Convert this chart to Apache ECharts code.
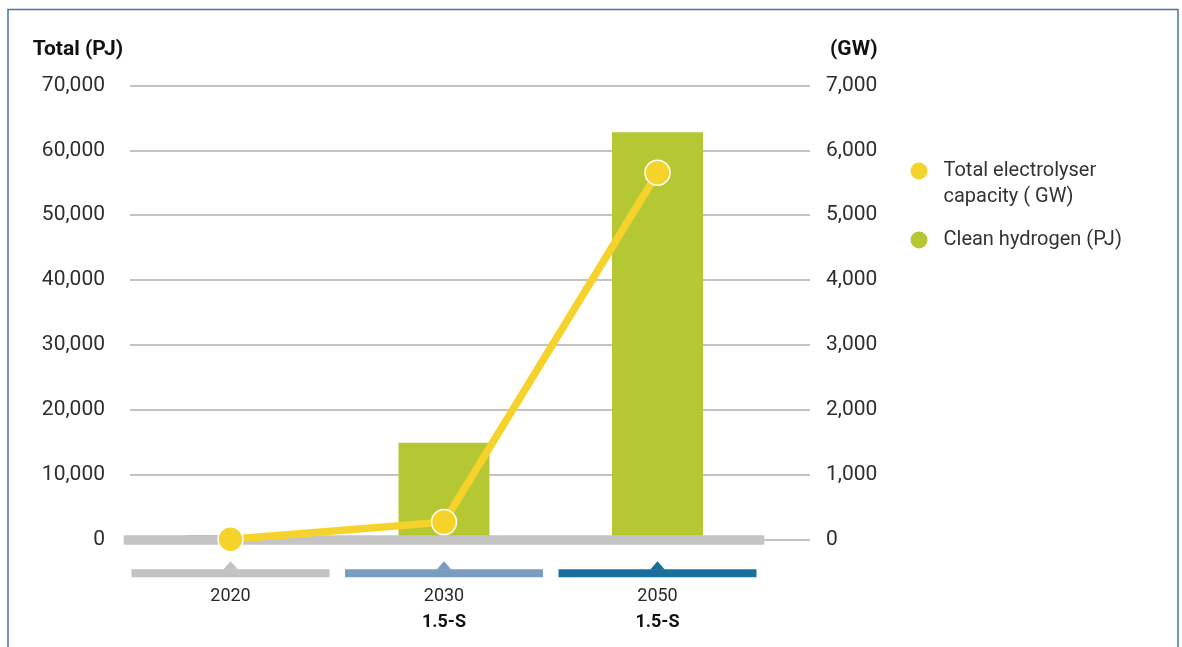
<!DOCTYPE html>
<html>
<head>
<meta charset="utf-8">
<script src="https://cdn.jsdelivr.net/npm/echarts@6/dist/echarts.min.js"></script>
<style>
  html, body { margin: 0; padding: 0; background: #ffffff; }
  #chart { width: 1182px; height: 647px; }
</style>
</head>
<body>
<div id="chart"></div>
<script>
// ---- Data ----
const categories = ['2020', '2030', '2050'];
const scenarios = ['', '1.5-S', '1.5-S'];
const hydrogenPJ = [650, 14900, 62800];
const capacityGW = [0, 265, 5655];
const pjTicks = { min: 0, max: 70000, interval: 10000 };
const gwTicks = { min: 0, max: 7000, interval: 1000 };
const lineName = 'Total electrolyser capacity ( GW)';
const barName = 'Clean hydrogen (PJ)';
const lineLegendLines = ['Total electrolyser', 'capacity ( GW)'];
const bandColors = ['#c2c2c2', '#7b9cc1', '#1b6f9c'];

// ---- Styles ----
const FONT = 'Roboto';
const TEXT = '#333333';
const GREEN = '#b5c733';
const YELLOW = '#f5d32a';
const GRID_TOP = 85.5;
const GRID_BOTTOM = 647 - 539.3;

const chart = echarts.init(document.getElementById('chart'), null, { renderer: 'canvas' });

const option = {
  backgroundColor: '#ffffff',
  animation: false,
  textStyle: { fontFamily: FONT },
  graphic: [{
    type: 'rect',
    shape: { x: 8, y: 9.5, width: 1170, height: 700 },
    style: { fill: 'none', stroke: '#4a74a5', lineWidth: 1.5 },
    z: -1, silent: true
  }],
  grid: [
    { left: 130, right: 1182 - 810, top: GRID_TOP, bottom: GRID_BOTTOM },
    { left: 123.75, right: 1182 - 764.25, top: GRID_TOP, bottom: GRID_BOTTOM }
  ],
  legend: [
    {
      data: [lineName],
      left: 910.5, top: 132,
      orient: 'vertical',
      padding: 0,
      icon: 'circle',
      itemWidth: 17, itemHeight: 17,
      itemStyle: { borderWidth: 0 },
      formatter: () => '\n' + lineLegendLines.join('\n'),
      textStyle: { fontFamily: FONT, fontSize: 20, color: TEXT, lineHeight: 26, padding: [0, 0, 0, 11] }
    },
    {
      data: [barName],
      left: 910.5, top: 227,
      orient: 'vertical',
      padding: 0,
      icon: 'circle',
      itemWidth: 17, itemHeight: 17,
      itemStyle: { borderWidth: 0 },
      textStyle: { fontFamily: FONT, fontSize: 20, color: TEXT, lineHeight: 26, padding: [0, 0, 0, 11] }
    }
  ],
  xAxis: [
    { gridIndex: 0, type: 'value', show: false, min: 0, max: 1 },
    {
      gridIndex: 1,
      type: 'category',
      data: categories,
      offset: 3,
      z: 3,
      axisLine: { show: true, lineStyle: { color: '#c4c4c4', width: 9.5, cap: 'butt' } },
      axisTick: { show: false },
      axisLabel: {
        margin: 43.5,
        formatter: (value) => {
          const s = scenarios[categories.indexOf(value)];
          return s ? '{y|' + value + '}\n{s|' + s + '}' : '{y|' + value + '}';
        },
        rich: {
          y: { fontFamily: FONT, fontSize: 18, color: '#2a2a2a', lineHeight: 22 },
          s: { fontFamily: FONT, fontSize: 18, fontWeight: 'bold', color: '#111111', lineHeight: 30 }
        }
      }
    }
  ],
  yAxis: [
    {
      gridIndex: 0, type: 'value', position: 'left',
      min: pjTicks.min, max: pjTicks.max, interval: pjTicks.interval,
      name: 'Total (PJ)',
      nameLocation: 'end',
      nameGap: 35.5,
      nameTextStyle: { fontFamily: FONT, fontSize: 21, fontWeight: 'bold', color: '#111111', align: 'right', verticalAlign: 'middle', padding: [0, 7, 0, 0] },
      axisLine: { show: false }, axisTick: { show: false },
      axisLabel: { margin: 25, fontFamily: FONT, fontSize: 21, color: '#2e2e2e' },
      splitLine: { show: true, lineStyle: { color: '#c2c2c2', width: 2 } }
    },
    {
      gridIndex: 0, type: 'value', position: 'right',
      min: gwTicks.min, max: gwTicks.max, interval: gwTicks.interval,
      name: '(GW)',
      nameLocation: 'end',
      nameGap: 35.5,
      nameTextStyle: { fontFamily: FONT, fontSize: 21, fontWeight: 'bold', color: '#111111', align: 'left', verticalAlign: 'middle', padding: [0, 0, 0, 20] },
      axisLine: { show: false }, axisTick: { show: false },
      axisLabel: { margin: 16, fontFamily: FONT, fontSize: 21, color: '#2e2e2e' },
      splitLine: { show: false }
    },
    { gridIndex: 1, type: 'value', show: false, min: pjTicks.min, max: pjTicks.max },
    { gridIndex: 1, type: 'value', show: false, min: gwTicks.min, max: gwTicks.max }
  ],
  series: [
    {
      name: barName,
      type: 'bar',
      xAxisIndex: 1, yAxisIndex: 2,
      data: hydrogenPJ,
      barWidth: 91,
      itemStyle: { color: GREEN },
      z: 2
    },
    {
      name: lineName,
      type: 'line',
      xAxisIndex: 1, yAxisIndex: 3,
      data: capacityGW,
      symbol: 'circle',
      symbolSize: 25,
      lineStyle: { color: YELLOW, width: 7.5 },
      itemStyle: { color: YELLOW, borderColor: '#ffffff', borderWidth: 1.5 },
      z: 5
    },
    {
      name: 'bands',
      type: 'custom',
      xAxisIndex: 1, yAxisIndex: 2,
      clip: false,
      silent: true,
      data: categories.map((c, i) => [i, 0]),
      renderItem: (params, api) => {
        const p = api.coord([api.value(0), api.value(1)]);
        const w = api.size([1, 0])[0];
        const color = bandColors[params.dataIndex];
        return {
          type: 'group',
          children: [
            { type: 'rect', shape: { x: p[0] - w / 2 + 7.75, y: p[1] + 30, width: w - 15.5, height: 8 }, style: { fill: color } },
            { type: 'polygon', shape: { points: [[p[0] - 7.5, p[1] + 30.5], [p[0] + 7.5, p[1] + 30.5], [p[0], p[1] + 22]] }, style: { fill: color } }
          ]
        };
      }
    }
  ]
};

chart.setOption(option);
</script>
</body>
</html>
